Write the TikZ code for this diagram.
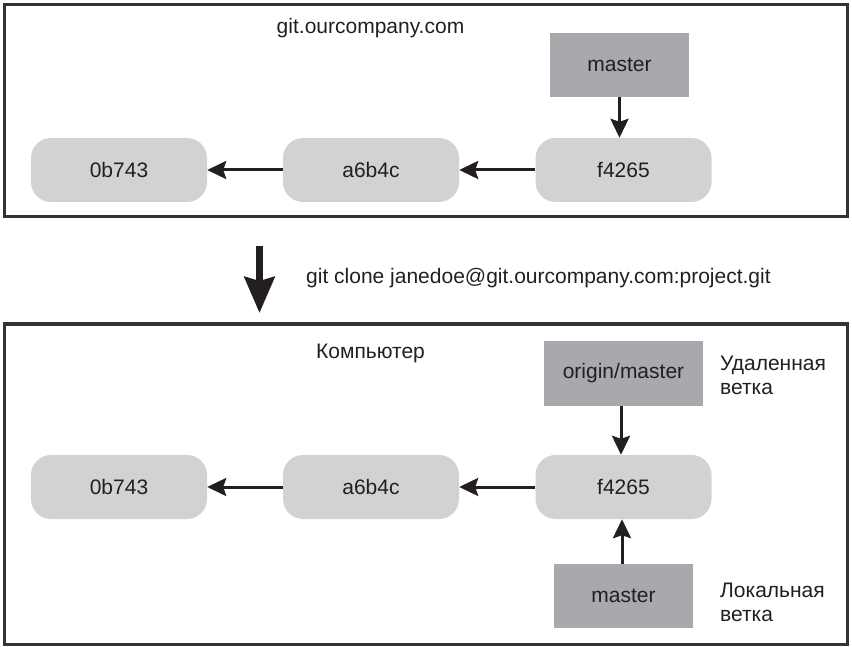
\documentclass[tikz,border=0pt]{standalone}
\usepackage{fontspec}
\setmainfont{Liberation Sans}
\usetikzlibrary{arrows.meta}
\definecolor{commitgray}{HTML}{D1D2D4}
\definecolor{branchgray}{HTML}{A7A9AC}
\definecolor{ink}{HTML}{231F20}
\definecolor{framec}{HTML}{333333}
\begin{document}
\begin{tikzpicture}[x=1pt,y=-1pt,
  every node/.style={font=\fontsize{21}{24}\selectfont, text=ink},
  frame/.style={draw=framec, line width=3pt},
  commit/.style={fill=commitgray, rounded corners=20pt, minimum width=176pt, minimum height=64pt, inner sep=0pt},
  branch/.style={fill=branchgray, inner sep=0pt},
  conn/.style={draw=ink, line width=3pt, -{Stealth[length=19pt,width=18pt,inset=3pt]}},
  bigarrow/.style={draw=ink, line width=7pt, -{Stealth[length=36pt,width=30pt,inset=4pt]}},
  label/.style={anchor=base west, inner sep=0pt, align=left}
]
\useasboundingbox (0,0) rectangle (852,647);
% frames
\draw[frame] (4.5,4.5) rectangle (847.5,217);
\draw[frame] (4.5,324) rectangle (847.5,644);

% top repository
\node[label, anchor=base] (srv) at (370.5,34) {git.ourcompany.com};
\node[commit] (a1) at (119,170) {0b743};
\node[commit] (a2) at (371,170) {a6b4c};
\node[commit] (a3) at (623.5,170) {f4265};
\node[branch, minimum width=139pt, minimum height=64pt] (m1) at (619.5,65) {master};
\draw[conn] (a2.west) -- (a1.east);
\draw[conn] (a3.west) -- (a2.east);
\draw[conn] (m1.south) -- (m1.south |- a3.north);

% clone arrow
\coordinate (bigtop) at (259.5,246);
\coordinate (bigbot) at (259.5,313);
\draw[bigarrow] (bigtop) -- (bigbot);
\node[label] (cmd) at (306,284) {git clone janedoe@git.ourcompany.com:project.git};

% local computer
\node[label] (pc) at (316,359) {Компьютер};
\node[commit] (b1) at (119,487) {0b743};
\node[commit] (b2) at (371,487) {a6b4c};
\node[commit] (b3) at (623.5,487) {f4265};
\node[branch, minimum width=159pt, minimum height=65pt] (om) at (623.5,373.5) {origin/master};
\node[branch, minimum width=139pt, minimum height=64pt] (m2) at (623.5,596) {master};
\draw[conn] (b2.west) -- (b1.east);
\draw[conn] (b3.west) -- (b2.east);
\coordinate (omfoot) at (621,406);
\draw[conn] (omfoot) -- (omfoot |- b3.north);
\coordinate (m2head) at (622,564);
\draw[conn] (m2head) -- (m2head |- b3.south);
\node[label] (remote) at (720,394) {Удаленная\\ветка};
\node[label] (local) at (720,621) {Локальная\\ветка};
\end{tikzpicture}
\end{document}
